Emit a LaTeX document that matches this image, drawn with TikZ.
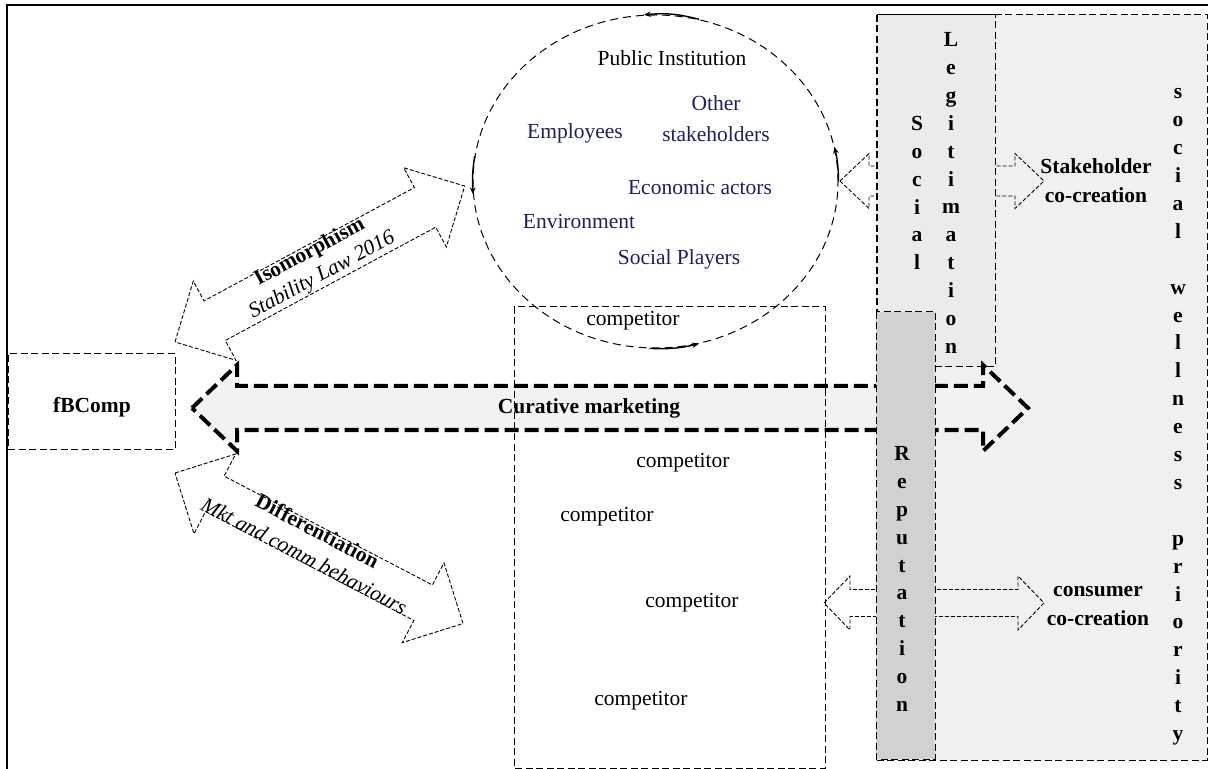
\documentclass[tikz,border=0pt]{standalone}
\usepackage{fontspec}
\setmainfont{Liberation Serif}
\usepackage{tikz}
\usetikzlibrary{arrows.meta, positioning, calc, shapes.geometric}

\definecolor{navytext}{RGB}{30,30,95}

% hollow double block arrow: style, start tip, angle, length, head half width, shaft half width, head length
\newcommand{\blockarrow}[7]{%
  \begin{scope}[shift={#2}, rotate=#3]
    \draw[#1] (0,0) -- (#7,-#5) -- (#7,-#6) -- (#4-#7,-#6) -- (#4-#7,-#5)
      -- (#4,0) -- (#4-#7,#5) -- (#4-#7,#6) -- (#7,#6) -- (#7,#5) -- cycle;
  \end{scope}
}

\begin{document}
\begin{tikzpicture}[
    x=0.5pt, y=-0.5pt, % one unit is one pixel of the sketch, y downwards
    font=\fontsize{10.75pt}{14pt}\selectfont,
    >={Stealth[length=3.5pt, width=2.8pt]},
    box/.style={draw, dash pattern=on 3.5pt off 1.75pt, line width=0.5pt},
    thin arrow/.style={draw, dash pattern=on 2pt off 1pt, line width=0.45pt},
    curative/.style={draw, fill=black!5, line width=2pt, dash pattern=on 7pt off 3pt},
    letters/.style={font=\fontsize{10.75pt}{13.95pt}\selectfont\bfseries, align=center, inner sep=0pt},
    lbl/.style={font=\fontsize{10.75pt}{14.5pt}\selectfont\bfseries, align=center},
    actor/.style={text=navytext},
    circarrow/.style={->, line width=0.7pt}
]
    \useasboundingbox (0,0) rectangle (1208,769);

    % Outer frame (only top and left show)
    \draw[line width=1pt] (7,769) -- (7,5) -- (1208,5);

    % Social wellness priority area
    \draw[box, fill=black!6] (876,15) rectangle (1207,760);

    % Stakeholder co-creation arrow, under the legitimation column
    \blockarrow{thin arrow}{(840,181)}{0}{204}{27.5}{15}{29}

    % Social legitimation column
    \draw[box, fill=black!8] (877,15) rectangle (995,367);

    % Consumer co-creation arrow, under the reputation column
    \blockarrow{thin arrow}{(824,603)}{0}{220}{27}{13.5}{26}

    % Curative marketing arrow
    \draw[curative] (192,408) -- (237,365) -- (237,386) -- (983,386) -- (983,365)
        -- (1028,408) -- (983,451) -- (983,430) -- (237,430) -- (237,451) -- cycle;
    \node[lbl] (Curative) at (589,408) {Curative marketing};

    % Reputation column
    \draw[box, fill=black!18] (876,312) rectangle (935,759);

    % Competitor area
    \draw[box] (514,307) rectangle (825,768);
    \node (Comp1) at (633,321) {competitor};
    \node (Comp2) at (683,463) {competitor};
    \node (Comp3) at (607,517) {competitor};
    \node (Comp4) at (692,603) {competitor};
    \node (Comp5) at (641,701) {competitor};

    % fBComp box
    \node[box, minimum width=83.5pt, minimum height=47.5pt] (FBCompBox) at (91.5,401.5) {};
    \node[font=\fontsize{10.75pt}{14pt}\selectfont\bfseries] (FBComp) at (92,407) {fBComp};

    % Isomorphism and differentiation arrows
    \blockarrow{thin arrow}{(175,342)}{28.3}{329}{45}{22.5}{45}
    \node[rotate=28.3, align=center] (Iso) at (316,264)
        {\textbf{Isomorphism}\\[-1pt]\textit{Stability Law 2016}};
    \blockarrow{thin arrow}{(175,473)}{-27.6}{325}{45}{20}{45}
    \node[rotate=-27.6, align=center] (Diff) at (311,543)
        {\textbf{Differentiation}\\\textit{Mkt and comm behaviours}};

    % Stakeholder circle
    \node[draw, ellipse, dash pattern=on 4pt off 2.5pt, line width=0.5pt,
        minimum width=182.5pt, minimum height=166.5pt, inner sep=0pt] (Stake) at (655.5,181.5) {};
    \draw[circarrow] (Stake.75) to[bend right=10] (Stake.94);
    \draw[circarrow] (Stake.172) to[bend right=6] (Stake.184);
    \draw[circarrow] (Stake.268) to[bend right=8] (Stake.285);
    \draw[circarrow] (Stake.0) to[bend right=6] (Stake.11);

    \node (PublicInst) at (672,58) {Public Institution};
    \node[actor, align=center] (Other) at (716,119) {Other\\[1.5pt]stakeholders};
    \node[actor] (Employees) at (575,133) {Employees};
    \node[actor] (Economic) at (700,187) {Economic actors};
    \node[actor] (Environment) at (579,221) {Environment};
    \node[actor] (SocialPlayers) at (679,259) {Social Players};

    % Vertical words
    \node[letters] (Social) at (917,193) {S\\o\\c\\i\\a\\l};
    \node[letters] (Legit) at (951,193) {L\\e\\g\\i\\t\\i\\m\\a\\t\\i\\o\\n};
    \node[letters] (Wellness) at (1178,417)
        {s\\o\\c\\i\\a\\l\\[13.95pt]w\\e\\l\\l\\n\\e\\s\\s\\[13.95pt]p\\r\\i\\o\\r\\i\\t\\y};
    \node[letters] (Reputation) at (902,579) {R\\e\\p\\u\\t\\a\\t\\i\\o\\n};

    % Co-creation labels
    \node[lbl] (StakeCo) at (1096,181) {Stakeholder\\co-creation};
    \node[lbl] (ConsCo) at (1098,606) {consumer\\co-creation};

\end{tikzpicture}
\end{document}
